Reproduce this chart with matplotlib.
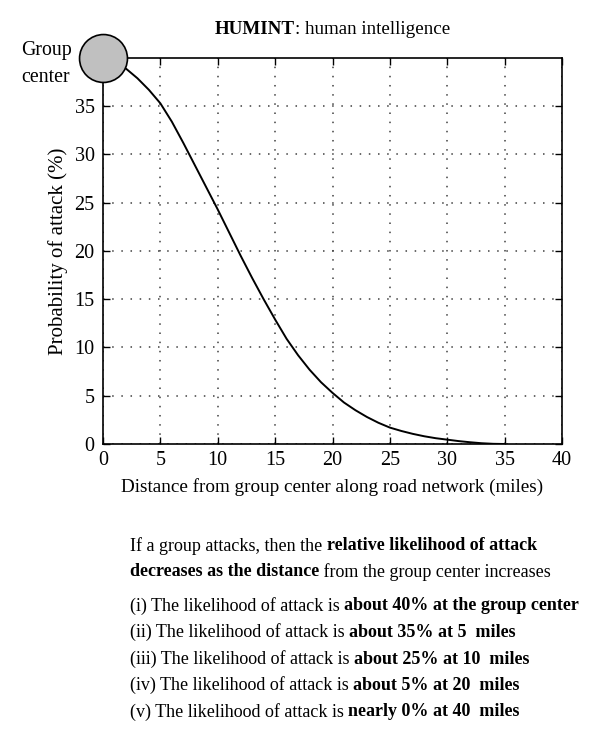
import matplotlib
matplotlib.use("Agg")
import matplotlib.pyplot as plt

plt.rcParams['font.family'] = ['Liberation Serif', 'DejaVu Serif']

# curve
distance = [2.0, 3, 4, 5, 6, 7, 8, 9, 10, 11, 12, 13, 14, 15, 16, 17, 18, 19, 20,
            21, 22, 23, 24, 25, 26, 27, 28, 29, 30, 31, 32, 33, 34, 35]
probability = [38.9, 37.9, 36.7, 35.3, 33.4, 31.2, 28.9, 26.6, 24.3, 21.9, 19.5, 17.2,
               15.0, 12.9, 10.9, 9.2, 7.7, 6.4, 5.3, 4.3, 3.5, 2.8, 2.2, 1.7, 1.35,
               1.05, 0.8, 0.6, 0.45, 0.3, 0.18, 0.08, 0.02, 0.0]
center_point = (0, 40)
x_ticks = [0, 5, 10, 15, 20, 25, 30, 35, 40]
y_ticks = [0, 5, 10, 15, 20, 25, 30, 35]

intro_lines = [
    [("If a group attacks, then the ", False), ("relative likelihood of attack", True)],
    [("decreases as the distance", True), (" from the group center increases", False)],
]
items = [
    [("(i) The likelihood of attack is ", False), ("about 40% at the group center", True)],
    [("(ii) The likelihood of attack is ", False), ("about 35% at 5  miles", True)],
    [("(iii) The likelihood of attack is ", False), ("about 25% at 10  miles", True)],
    [("(iv) The likelihood of attack is ", False), ("about 5% at 20  miles", True)],
    [("(v) The likelihood of attack is ", False), ("nearly 0% at 40  miles", True)],
]

W, H = 600, 750
fig = plt.figure(figsize=(6, 7.5), dpi=100)
ax = fig.add_axes([103 / W, 1 - 444 / H, 459 / W, 386 / H])

ax.plot(distance, probability, color='black', lw=1.4, zorder=3)
ax.plot(*center_point, 'o', ms=34.5, mfc='#c0c0c0', mec='black', mew=1.2,
        clip_on=False, zorder=5)

ax.set_xlim(0, 40)
ax.set_ylim(0, 40)
ax.set_xticks(x_ticks)
ax.set_yticks(y_ticks)
ax.tick_params(direction='in', length=5, width=1, top=True, right=True,
               labelsize=14.5)
ax.tick_params(axis='x', pad=5)
ax.tick_params(axis='y', pad=6)
for s in ax.spines.values():
    s.set_linewidth(1.2)
ax.grid(True, color='0.25', linestyle=(0, (1, 5)), lw=1.1)

ax.set_xlabel("Distance from group center along road network (miles)", fontsize=13.8, labelpad=6)
ax.set_ylabel("Probability of attack (%)", fontsize=15, labelpad=5)

fig.text(21 / W, 1 - 51 / H, "Group", fontsize=14.3, va='center', ha='left')
fig.text(21 / W, 1 - 77 / H, "center", fontsize=14.3, va='center', ha='left')

renderer = fig.canvas.get_renderer()


def draw_mixed(x_px, y_px, parts, size=13):
    x = x_px
    for txt, bold in parts:
        t = fig.text(x / W, 1 - y_px / H, txt, fontsize=size, va='center', ha='left',
                     fontweight='bold' if bold else 'normal')
        bb = t.get_window_extent(renderer=renderer)
        x += bb.width


draw_mixed(215, 30, [("HUMINT", True), (": human intelligence", False)], size=13.7)

for i, line in enumerate(intro_lines):
    draw_mixed(130, 546 + i * 26, line)
for i, line in enumerate(items):
    draw_mixed(130, 606 + i * 26.5, line)

fig.savefig("out.png", dpi=100)
